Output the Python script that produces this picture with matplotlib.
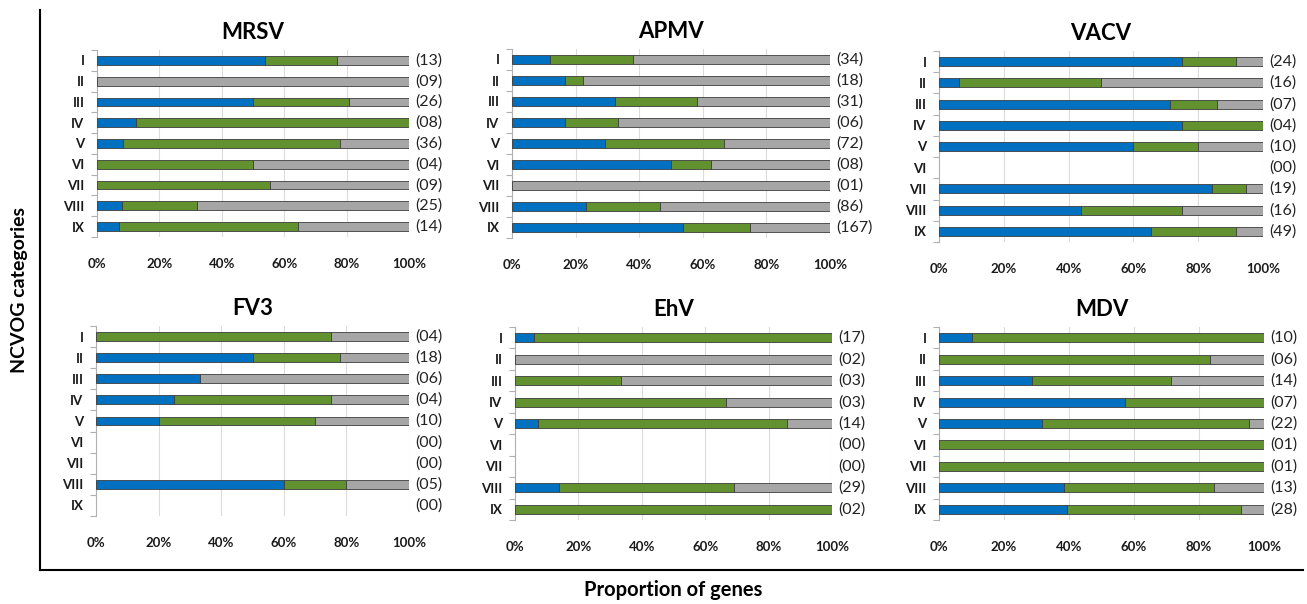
import matplotlib.pyplot as plt
from matplotlib.lines import Line2D
from matplotlib.transforms import blended_transform_factory

plt.rcParams["font.family"] = ["Lato", "DejaVu Sans"]

# ---------------------------------------------------------------------------
# DATA — percentage of genes per NCVOG category (blue / green / gray)
# ---------------------------------------------------------------------------
categories = ["I", "II", "III", "IV", "V", "VI", "VII", "VIII", "IX"]
xticks = [0, 20, 40, 60, 80, 100]
xtick_labels = ["0%", "20%", "40%", "60%", "80%", "100%"]

mrsv_blue  = [53.8, 0, 50.0, 12.5, 8.3, 0, 0, 8.0, 7.1]
mrsv_green = [23.1, 0, 30.8, 87.5, 69.5, 50.0, 55.6, 24.0, 57.2]
mrsv_gray  = [23.1, 100, 19.2, 0, 22.2, 50.0, 44.4, 68.0, 35.7]
mrsv_n     = ["(13)", "(09)", "(26)", "(08)", "(36)", "(04)", "(09)", "(25)", "(14)"]

apmv_blue  = [11.8, 16.7, 32.3, 16.7, 29.2, 50.0, 0, 23.3, 53.9]
apmv_green = [26.4, 5.5, 25.8, 16.6, 37.5, 12.5, 0, 23.2, 21.0]
apmv_gray  = [61.8, 77.8, 41.9, 66.7, 33.3, 37.5, 100, 53.5, 25.1]
apmv_n     = ["(34)", "(18)", "(31)", "(06)", "(72)", "(08)", "(01)", "(86)", "(167)"]

vacv_blue  = [75.0, 6.3, 71.4, 75.0, 60.0, 0, 84.2, 43.8, 65.3]
vacv_green = [16.7, 43.7, 14.3, 25.0, 20.0, 0, 10.5, 31.2, 26.5]
vacv_gray  = [8.3, 50.0, 14.3, 0, 20.0, 0, 5.3, 25.0, 8.2]
vacv_n     = ["(24)", "(16)", "(07)", "(04)", "(10)", "(00)", "(19)", "(16)", "(49)"]

fv3_blue   = [0, 50.0, 33.3, 25.0, 20.0, 0, 0, 60.0, 0]
fv3_green  = [75.0, 27.8, 0, 50.0, 50.0, 0, 0, 20.0, 0]
fv3_gray   = [25.0, 22.2, 66.7, 25.0, 30.0, 0, 0, 20.0, 0]
fv3_n      = ["(04)", "(18)", "(06)", "(04)", "(10)", "(00)", "(00)", "(05)", "(00)"]

ehv_blue   = [5.9, 0, 0, 0, 7.1, 0, 0, 13.8, 0]
ehv_green  = [94.1, 0, 33.3, 66.7, 78.6, 0, 0, 55.2, 100]
ehv_gray   = [0, 100, 66.7, 33.3, 14.3, 0, 0, 31.0, 0]
ehv_n      = ["(17)", "(02)", "(03)", "(03)", "(14)", "(00)", "(00)", "(29)", "(02)"]

mdv_blue   = [10.0, 0, 28.6, 57.1, 31.8, 0, 0, 38.5, 39.3]
mdv_green  = [90.0, 83.3, 42.8, 42.9, 63.7, 100, 100, 46.1, 53.6]
mdv_gray   = [0, 16.7, 28.6, 0, 4.5, 0, 0, 15.4, 7.1]
mdv_n      = ["(10)", "(06)", "(14)", "(07)", "(22)", "(01)", "(01)", "(13)", "(28)"]

PANELS = [
    ("MRSV", mrsv_blue, mrsv_green, mrsv_gray, mrsv_n),
    ("APMV", apmv_blue, apmv_green, apmv_gray, apmv_n),
    ("VACV", vacv_blue, vacv_green, vacv_gray, vacv_n),
    ("FV3",  fv3_blue,  fv3_green,  fv3_gray,  fv3_n),
    ("EhV",  ehv_blue,  ehv_green,  ehv_gray,  ehv_n),
    ("MDV",  mdv_blue,  mdv_green,  mdv_gray,  mdv_n),
]

# ---------------------------------------------------------------------------
# LAYOUT (pixel boxes: left, right, top, bottom)
# ---------------------------------------------------------------------------
W, H = 1307, 604
BOXES = [
    (97, 409, 50, 237),
    (512, 830, 49, 238),
    (939, 1263, 51, 242),
    (96, 409, 326, 516),
    (515, 832, 327, 520),
    (939, 1264, 327, 520),
]
COLORS = ["#0070c0", "#62922f", "#a6a6a6"]
EDGE = "#3c3c3c"


def draw_panel(ax, title, blue, green, gray, counts):
    ys = list(range(len(categories)))
    left = [0.0] * len(ys)
    for vals, col in zip((blue, green, gray), COLORS):
        for y, v, l in zip(ys, vals, left):
            if v > 0:
                ax.barh(y, v, left=l, height=0.42, color=col,
                        edgecolor=EDGE, linewidth=0.6, zorder=3)
        left = [l + v for l, v in zip(left, vals)]

    ax.set_xlim(0, 100)
    ax.set_ylim(len(ys) - 0.5, -0.5)
    ax.set_xticks(xticks)
    ax.set_xticklabels(xtick_labels, fontsize=9.5, fontweight="bold",
                       color="#1a1a1a")
    ax.set_yticks(ys)
    ax.set_yticklabels(categories, fontsize=9.5, fontweight="bold",
                       color="#1a1a1a")
    ax.set_yticks([y - 0.5 for y in ys] + [len(ys) - 0.5], minor=True)
    ax.tick_params(axis="x", length=0, pad=15)
    ax.tick_params(axis="y", which="major", length=0, pad=9)
    ax.tick_params(axis="y", which="minor", length=4, color="#b0b0b0",
                   width=0.8)
    ax.grid(axis="x", color="#dcdcdc", linewidth=0.8, zorder=0)
    ax.set_axisbelow(True)
    for side in ("top", "right", "bottom"):
        ax.spines[side].set_visible(False)
    ax.spines["left"].set_color("#b0b0b0")
    ax.spines["left"].set_linewidth(0.8)

    trans = blended_transform_factory(ax.transAxes, ax.transData)
    for y, n in zip(ys, counts):
        ax.text(1.02, y, n, transform=trans, ha="left", va="center",
                fontsize=11.5, color="#222222")

    ax.set_title(title, fontsize=16, fontweight="bold", pad=8)


fig = plt.figure(figsize=(W / 100, H / 100), dpi=100)

for (title, b, g, gr, n), (l, r, t, bt) in zip(PANELS, BOXES):
    ax = fig.add_axes([l / W, 1 - bt / H, (r - l) / W, (bt - t) / H])
    draw_panel(ax, title, b, g, gr, n)

# outer frame
fig.add_artist(Line2D([40 / W, 40 / W], [1 - 10 / H, 1 - 570 / H],
                      transform=fig.transFigure, color="black", linewidth=1.5))
fig.add_artist(Line2D([40 / W, 1303 / W], [1 - 570 / H, 1 - 570 / H],
                      transform=fig.transFigure, color="black", linewidth=1.5))

fig.text(20 / W, 1 - 290 / H, "NCVOG categories", rotation=90, ha="center",
         va="center", fontsize=14, fontweight="bold")
fig.text(673 / W, 1 - 590 / H, "Proportion of genes", ha="center",
         va="center", fontsize=14.5, fontweight="bold")

fig.savefig("out.png", dpi=100)
